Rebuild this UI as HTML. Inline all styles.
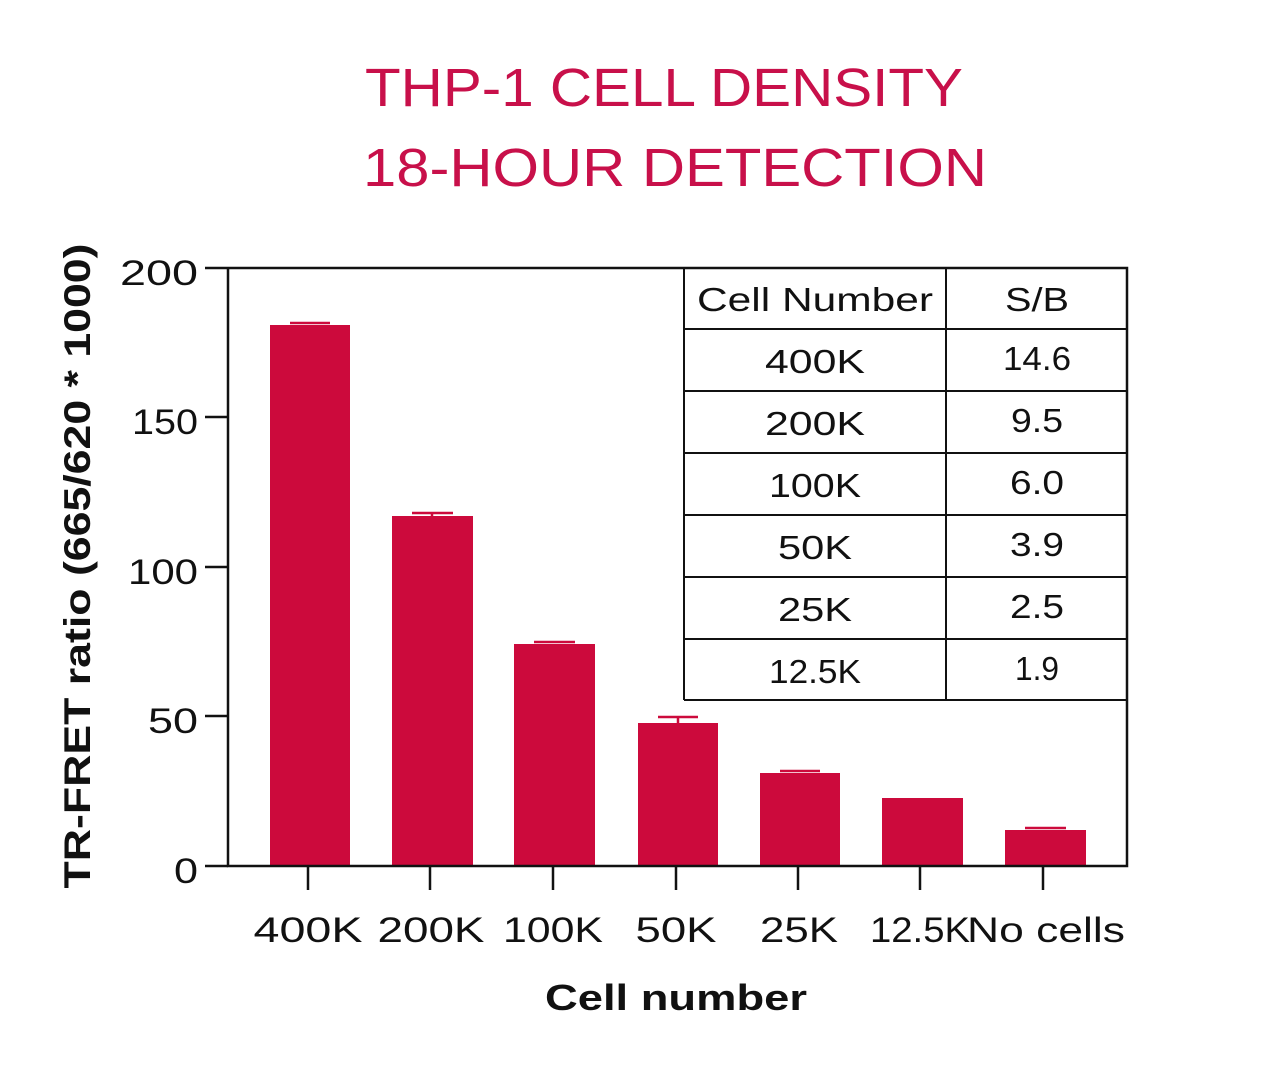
<!DOCTYPE html>
<html><head><meta charset="utf-8"><style>
html,body{margin:0;padding:0;background:#fff;}
svg{display:block;font-family:"Liberation Sans",sans-serif;}
</style></head><body>
<svg width="1281" height="1065" viewBox="0 0 1281 1065" xmlns="http://www.w3.org/2000/svg">
<rect width="1281" height="1065" fill="#fff"/>
<g fill="#c8104a" font-size="54" text-anchor="middle" lengthAdjust="spacingAndGlyphs">
<text x="664" y="106" textLength="598" lengthAdjust="spacingAndGlyphs">THP-1 CELL DENSITY</text>
<text x="675" y="186" textLength="624" lengthAdjust="spacingAndGlyphs">18-HOUR DETECTION</text>
</g>
<g fill="#cc0a3c">
<rect x="270" y="325" width="80" height="541"/>
<rect x="392" y="516" width="81" height="350"/>
<rect x="514" y="644" width="81" height="222"/>
<rect x="638" y="723" width="80" height="143"/>
<rect x="760" y="773" width="80" height="93"/>
<rect x="882" y="798" width="81" height="68"/>
<rect x="1005" y="830" width="81" height="36"/>
</g>
<g stroke="#cc0a3c" stroke-width="2.5">
<line x1="290" y1="323" x2="330" y2="323"/>
<line x1="412" y1="513" x2="453" y2="513"/><line x1="432" y1="513" x2="432" y2="518"/>
<line x1="534" y1="642" x2="575" y2="642"/>
<line x1="658" y1="717" x2="698" y2="717"/><line x1="678" y1="717" x2="678" y2="725"/>
<line x1="780" y1="771" x2="820" y2="771"/>
<line x1="1025" y1="828" x2="1066" y2="828"/>
</g>
<g stroke="#111" stroke-width="2.5" fill="none">
<polyline points="228,268 1127,268 1127,866 228,866 228,268"/>
<line x1="205" y1="268" x2="228" y2="268"/>
<line x1="205" y1="417" x2="228" y2="417"/>
<line x1="205" y1="567" x2="228" y2="567"/>
<line x1="205" y1="716" x2="228" y2="716"/>
<line x1="205" y1="866" x2="228" y2="866"/>
<line x1="308" y1="866" x2="308" y2="890"/>
<line x1="430" y1="866" x2="430" y2="890"/>
<line x1="553" y1="866" x2="553" y2="890"/>
<line x1="676" y1="866" x2="676" y2="890"/>
<line x1="798" y1="866" x2="798" y2="890"/>
<line x1="920" y1="866" x2="920" y2="890"/>
<line x1="1043" y1="866" x2="1043" y2="890"/>
</g>
<g stroke="#111" stroke-width="2" fill="none">
<line x1="684" y1="268" x2="684" y2="700"/>
<line x1="946" y1="268" x2="946" y2="700"/>
<line x1="684" y1="329" x2="1127" y2="329"/>
<line x1="684" y1="391" x2="1127" y2="391"/>
<line x1="684" y1="453" x2="1127" y2="453"/>
<line x1="684" y1="515" x2="1127" y2="515"/>
<line x1="684" y1="577" x2="1127" y2="577"/>
<line x1="684" y1="639" x2="1127" y2="639"/>
<line x1="684" y1="700" x2="1127" y2="700"/>
</g>
<g fill="#111" font-size="33" text-anchor="middle">
<text x="815" y="311" textLength="236" lengthAdjust="spacingAndGlyphs">Cell Number</text><text x="1037" y="311" textLength="64" lengthAdjust="spacingAndGlyphs">S/B</text>
<text x="815" y="373" textLength="100" lengthAdjust="spacingAndGlyphs">400K</text><text x="1037" y="370" textLength="68" lengthAdjust="spacingAndGlyphs">14.6</text>
<text x="815" y="435" textLength="100" lengthAdjust="spacingAndGlyphs">200K</text><text x="1037" y="432" textLength="52" lengthAdjust="spacingAndGlyphs">9.5</text>
<text x="815" y="497" textLength="92" lengthAdjust="spacingAndGlyphs">100K</text><text x="1037" y="494" textLength="54" lengthAdjust="spacingAndGlyphs">6.0</text>
<text x="815" y="559" textLength="74" lengthAdjust="spacingAndGlyphs">50K</text><text x="1037" y="556" textLength="54" lengthAdjust="spacingAndGlyphs">3.9</text>
<text x="815" y="621" textLength="74" lengthAdjust="spacingAndGlyphs">25K</text><text x="1037" y="618" textLength="54" lengthAdjust="spacingAndGlyphs">2.5</text>
<text x="815" y="683" textLength="92" lengthAdjust="spacingAndGlyphs">12.5K</text><text x="1037" y="680" textLength="44" lengthAdjust="spacingAndGlyphs">1.9</text>
</g>
<g fill="#111" font-size="35" text-anchor="end">
<text x="198" y="285" textLength="78" lengthAdjust="spacingAndGlyphs">200</text>
<text x="198" y="434" textLength="66" lengthAdjust="spacingAndGlyphs">150</text>
<text x="198" y="584" textLength="70" lengthAdjust="spacingAndGlyphs">100</text>
<text x="198" y="733" textLength="50" lengthAdjust="spacingAndGlyphs">50</text>
<text x="198" y="883" textLength="24" lengthAdjust="spacingAndGlyphs">0</text>
</g>
<g fill="#111" font-size="35" text-anchor="middle">
<text x="308" y="942" textLength="109" lengthAdjust="spacingAndGlyphs">400K</text>
<text x="431" y="942" textLength="107" lengthAdjust="spacingAndGlyphs">200K</text>
<text x="553" y="942" textLength="100" lengthAdjust="spacingAndGlyphs">100K</text>
<text x="676" y="942" textLength="81" lengthAdjust="spacingAndGlyphs">50K</text>
<text x="799" y="942" textLength="78" lengthAdjust="spacingAndGlyphs">25K</text>
<text x="920" y="942" textLength="100" lengthAdjust="spacingAndGlyphs">12.5K</text>
<text x="1046" y="942" textLength="158" lengthAdjust="spacingAndGlyphs">No cells</text>
</g>
<text x="676" y="1010" font-size="36" font-weight="bold" text-anchor="middle" fill="#111" textLength="262" lengthAdjust="spacingAndGlyphs">Cell number</text>
<text transform="translate(90,566) rotate(-90)" font-size="37" font-weight="bold" text-anchor="middle" fill="#111" textLength="645" lengthAdjust="spacingAndGlyphs">TR-FRET ratio (665/620 * 1000)</text>
</svg>
</body></html>
